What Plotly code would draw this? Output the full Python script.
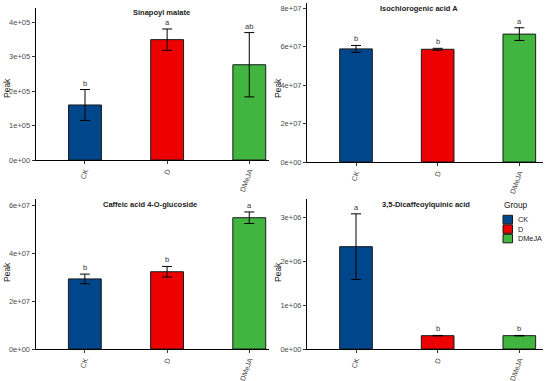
import plotly.graph_objects as go

W, H = 550, 381

groups = ["CK", "D", "DMeJA"]
colors = ["#00468B", "#ED0000", "#42B540"]

titles = ["Sinapoyl malate", "Isochlorogenic acid A",
          "Caffeic acid 4-O-glucoside", "3,5-Dicaffeoylquinic acid"]

sinapoyl_mean = [1.60e5, 3.50e5, 2.77e5]
sinapoyl_sd = [0.45e5, 0.31e5, 0.935e5]
sinapoyl_sig = ["b", "a", "ab"]

isochlorogenic_mean = [5.89e7, 5.87e7, 6.66e7]
isochlorogenic_sd = [0.18e7, 0.05e7, 0.33e7]
isochlorogenic_sig = ["b", "b", "a"]

caffeic_mean = [2.92e7, 3.22e7, 5.47e7]
caffeic_sd = [0.20e7, 0.22e7, 0.24e7]
caffeic_sig = ["b", "b", "a"]

dicaffeoyl_mean = [2.34e6, 0.305e6, 0.305e6]
dicaffeoyl_sd = [0.75e6, 0.005e6, 0.005e6]
dicaffeoyl_sig = ["a", "b", "b"]

y_tickvals = [[0, 1e5, 2e5, 3e5, 4e5], [0, 2e7, 4e7, 6e7, 8e7],
              [0, 2e7, 4e7, 6e7], [0, 1e6, 2e6, 3e6]]
y_ticktext = [["0e+00", "1e+05", "2e+05", "3e+05", "4e+05"],
              ["0e+00", "2e+07", "4e+07", "6e+07", "8e+07"],
              ["0e+00", "2e+07", "4e+07", "6e+07"],
              ["0e+00", "1e+06", "2e+06", "3e+06"]]

means = [sinapoyl_mean, isochlorogenic_mean, caffeic_mean, dicaffeoyl_mean]
sds = [sinapoyl_sd, isochlorogenic_sd, caffeic_sd, dicaffeoyl_sd]
sigs = [sinapoyl_sig, isochlorogenic_sig, caffeic_sig, dicaffeoyl_sig]

def px(x):
    return x / W

def py(y):
    return 1 - y / H

panels = [
    dict(l=35.7, r=269, t=8, b=160, ytop=4.42e5, xr=3.24, tx=161, ty=12.7, peak_x=7, peak_y=88),
    dict(l=307, r=543, t=3, b=162, ytop=8.28e7, xr=3.29, tx=418.5, ty=9, peak_x=278, peak_y=88),
    dict(l=35.5, r=269, t=199, b=349, ytop=6.25e7, xr=3.24, tx=150, ty=204, peak_x=7, peak_y=272),
    dict(l=307, r=543, t=199, b=349, ytop=3.43e6, xr=3.29, tx=426, ty=204, peak_x=278, peak_y=272),
]

fig = go.Figure()
font_family = "Liberation Sans, Arial, sans-serif"
annotations = []
x = [1, 2, 3]

for i, p in enumerate(panels):
    xa = "x" if i == 0 else f"x{i+1}"
    ya = "y" if i == 0 else f"y{i+1}"
    fig.add_trace(go.Bar(
        x=x, y=means[i], width=0.4,
        marker=dict(color=colors, line=dict(color="#1a1a1a", width=1)),
        error_y=dict(type="data", array=sds[i], color="black", thickness=1, width=5),
        xaxis=xa, yaxis=ya, showlegend=False, hoverinfo="skip",
    ))
    axkey = "" if i == 0 else str(i + 1)
    fig.update_layout(**{
        f"xaxis{axkey}": dict(
            domain=[px(p["l"]), px(p["r"])], range=[0.4, p["xr"]],
            anchor=ya, tickvals=x, ticktext=groups, tickangle=-70,
            showline=True, linecolor="black", linewidth=1,
            ticks="outside", ticklen=3, tickcolor="#333", tickwidth=1,
            ticklabelstandoff=0,
            showgrid=False, zeroline=False, automargin=False, fixedrange=True,
            tickfont=dict(size=7.2, color="#4D4D4D", family=font_family),
        ),
        f"yaxis{axkey}": dict(
            domain=[py(p["b"]), py(p["t"])], range=[0, p["ytop"]],
            anchor=xa, tickvals=y_tickvals[i], ticktext=y_ticktext[i],
            showline=True, linecolor="black", linewidth=1,
            ticks="outside", ticklen=3, tickcolor="#333", tickwidth=1,
            showgrid=False, zeroline=False, automargin=False, fixedrange=True,
            tickfont=dict(size=7.5, color="#4D4D4D", family=font_family),
        ),
    })
    annotations.append(dict(
        text=f"<b>{titles[i]}</b>", x=px(p["tx"]), y=py(p["ty"]),
        xref="paper", yref="paper", showarrow=False,
        xanchor="center", yanchor="middle",
        font=dict(size=7.5, color="#1a1a1a", family=font_family)))
    annotations.append(dict(
        text="Peak", x=px(p["peak_x"]), y=py(p["peak_y"]),
        xref="paper", yref="paper", showarrow=False, textangle=-90,
        xanchor="center", yanchor="middle",
        font=dict(size=8.5, color="#1a1a1a", family=font_family)))
    for j in range(3):
        annotations.append(dict(
            text=sigs[i][j], x=x[j], y=means[i][j] + sds[i][j],
            xref=xa, yref=ya, showarrow=False,
            xanchor="center", yanchor="bottom", yshift=0,
            font=dict(size=7.5, color="#333333", family=font_family)))

shapes = []
annotations.append(dict(
    text="Group", x=px(502), y=py(205), xref="paper", yref="paper",
    showarrow=False, xanchor="left", yanchor="middle",
    font=dict(size=8.4, color="#1a1a1a", family=font_family)))
key_top = 214.8
key_h = 9.5
for k, g in enumerate(groups):
    y0 = key_top + k * key_h
    shapes.append(dict(
        type="rect", xref="paper", yref="paper",
        x0=px(503), x1=px(512.5), y0=py(y0 + key_h - 0.5), y1=py(y0 + 0.5),
        fillcolor=colors[k], line=dict(color="#1a1a1a", width=1)))
    annotations.append(dict(
        text=g, x=px(516), y=py(y0 + key_h / 2), xref="paper", yref="paper",
        showarrow=False, xanchor="left", yanchor="middle",
        font=dict(size=7.3, color="#1a1a1a", family=font_family)))

fig.update_layout(
    width=W, height=H, margin=dict(l=0, r=0, t=0, b=0, autoexpand=False),
    paper_bgcolor="white", plot_bgcolor="white",
    annotations=annotations, shapes=shapes, showlegend=False,
    bargap=0, hovermode=False,
)

fig.write_html(
    "out.html",
    config={"displayModeBar": False, "staticPlot": True},
    post_script="document.body.style.margin='0';document.body.style.overflow='hidden';",
)
